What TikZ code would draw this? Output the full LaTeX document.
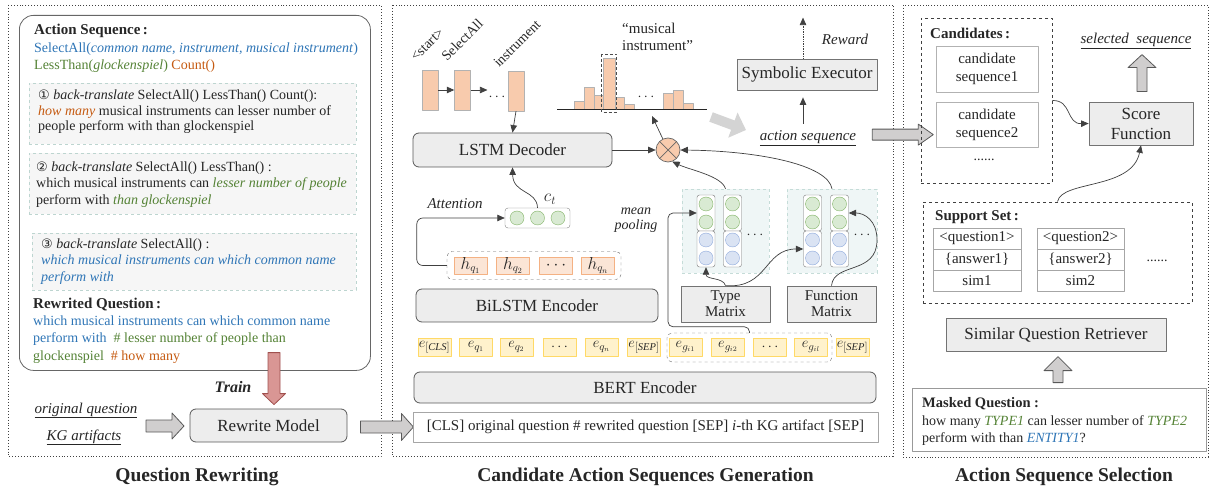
\documentclass[tikz,border=0pt]{standalone}
\usepackage{fontspec}
\setmainfont{Liberation Serif}
\newfontfamily\dejavu{DejaVu Sans}
\usetikzlibrary{calc,arrows.meta}
\definecolor{cblue}{HTML}{2E75B6}
\definecolor{cgreen}{HTML}{548235}
\definecolor{corange}{HTML}{C55A11}
\definecolor{barfill}{HTML}{F8CBAD}
\definecolor{hfill}{HTML}{FBE5D6}
\definecolor{hdraw}{HTML}{F4B183}
\definecolor{efill}{HTML}{FFF2CC}
\definecolor{edraw}{HTML}{FFD966}
\definecolor{gfill}{HTML}{D9EAD3}
\definecolor{gdraw}{HTML}{82B366}
\definecolor{bfill}{HTML}{DAE3F3}
\definecolor{bdraw}{HTML}{8FAADC}
\definecolor{mpfill}{HTML}{EFF6F6}
\definecolor{mpdraw}{HTML}{C5DCD8}
\definecolor{ltfill}{HTML}{F6F6F6}
\definecolor{ltdraw}{HTML}{BDD5D0}
\definecolor{redfill}{HTML}{D99694}
\definecolor{reddraw}{HTML}{A0504E}
\definecolor{boxfill}{HTML}{EDEDED}
\definecolor{arrfill}{HTML}{D0CECE}
\definecolor{txt}{HTML}{262626}
\newcommand\fsz[2]{\fontsize{#1}{#2}\selectfont}
% horizontal (right) block arrow: start point, shaft half, head half, total length, head length, style
\newcommand\rarr[6]{\draw[#6] (#1) ++(0,-#2) -- ++({#4-#5},0) -- ++(0,{-(#3-#2)}) -- ++(#5,#3) -- ++(-#5,#3) -- ++(0,{-(#3-#2)}) -- ++({-(#4-#5)},0) -- cycle;}
% upward block arrow (start = base centre)
\newcommand\uarr[6]{\draw[#6] (#1) ++(-#2,0) -- ++(0,{-(#4-#5)}) -- ++({-(#3-#2)},0) -- ++(#3,-#5) -- ++(#3,#5) -- ++({-(#3-#2)},0) -- ++(0,{#4-#5}) -- cycle;}
% downward block arrow (start = base centre)
\newcommand\darr[6]{\draw[#6] (#1) ++(-#2,0) -- ++(0,{#4-#5}) -- ++({-(#3-#2)},0) -- ++(#3,#5) -- ++(#3,-#5) -- ++({-(#3-#2)},0) -- ++(0,{-(#4-#5)}) -- cycle;}
\begin{document}
\begin{tikzpicture}[x=1pt,y=-1pt, font=\fsz{14}{17}, text=txt, line join=round,
  panel/.style={draw=black!75, dotted, line width=0.9pt},
  title/.style={anchor=base, inner sep=0, font=\fsz{19.5}{22}\bfseries},
  lbl/.style={anchor=base west, inner sep=0},
  gbox/.style={draw=black!65, fill=boxfill, rounded corners=6, line width=0.8pt, inner sep=0, font=\fsz{17}{20}},
  sbox/.style={draw=black!55, fill=boxfill, line width=0.8pt, inner sep=0, font=\fsz{17}{20}, align=center},
  dbox/.style={draw=ltdraw, fill=ltfill, dashed, line width=0.8pt, inner sep=0},
  blk/.style={draw=black!65, fill=arrfill, line width=0.8pt},
  redblk/.style={draw=reddraw, fill=redfill, line width=0.8pt},
  arr/.style={draw=black!75, line width=0.7pt, -{Triangle[length=7.5pt,width=6.5pt]}},
  tokbar/.style={draw=black!30, fill=barfill, minimum width=16, minimum height=40, inner sep=0},
  histbar/.style={draw=black!30, fill=barfill, line width=0.5pt},
  rot/.style={rotate=45, anchor=base west, inner sep=0, font=\fsz{14}{16}},
  hnode/.style={draw=hdraw, fill=hfill, minimum width=33, minimum height=17, inner sep=0, font=\fsz{16}{18}},
  enode/.style={draw=edraw, fill=efill, minimum width=33, minimum height=18, inner sep=0, font=\fsz{15}{17}},
  gcirc/.style={circle, draw=gdraw, fill=gfill, minimum size=14, inner sep=0},
  bcirc/.style={circle, draw=bdraw, fill=bfill, minimum size=14, inner sep=0},
  colbox/.style={draw=black!55, fill=white, rounded corners=2.5, minimum width=18, minimum height=36, inner sep=0},
  mpanel/.style={draw=mpdraw, dashed, fill=mpfill, minimum height=84, inner sep=0},
  cell/.style={draw=black!35, minimum height=21, inner sep=0, font=\fsz{15}{17}},
]
\useasboundingbox (0,0) rectangle (1213,486);

% ---------------- panels ----------------
\draw[panel] (8,5) rectangle (381,456);
\draw[panel] (392,5) rectangle (893,456);
\draw[panel] (903,5) rectangle (1208,457);
\node[title] (t1) at (197,481) {Question Rewriting};
\node[title] (t2) at (645.5,481) {Candidate Action Sequences Generation};
\node[title] (t3) at (1064,481) {Action Sequence Selection};

% ---------------- left panel ----------------
\node[draw=black!60, line width=0.8pt, rounded corners=14, minimum width=351, minimum height=355, anchor=north west, inner sep=0] (lbox) at (19,15) {};
\node[lbl, font=\fsz{15}{17}\bfseries] (ash) at (34,35) {Action Sequence\,:};
\node[lbl, text=cblue] (as1) at (34,53) {SelectAll(\textit{common name, instrument, musical instrument})};
\node[lbl] (as2) at (34,70) {\textcolor{cgreen}{LessThan(\textit{glockenspiel})} \textcolor{corange}{Count()}};

\node[dbox, minimum width=327, minimum height=61] (bt1) at (192.5,113.5) {};
\node[lbl] (bt1a) at (38,100) {{\dejavu\fsz{13}{15}①} \textit{back-translate} SelectAll() LessThan() Count():};
\node[lbl] (bt1b) at (38,115.5) {\textcolor{corange}{\textit{how many}} musical instruments can lesser number of};
\node[lbl] (bt1c) at (38,131) {people perform with than glockenspiel};

\node[dbox, minimum width=327, minimum height=61] (bt2) at (192.5,183.5) {};
\node[lbl] (bt2a) at (36,172) {{\dejavu\fsz{13}{15}②} \textit{back-translate} SelectAll() LessThan() :};
\node[lbl] (bt2b) at (36,188) {which musical instruments can \textcolor{cgreen}{\textit{lesser number of people}}};
\node[lbl] (bt2c) at (36,205) {perform with \textcolor{cgreen}{\textit{than glockenspiel}}};

\node[dbox, minimum width=324, minimum height=57] (bt3) at (194,261.5) {};
\node[lbl] (bt3a) at (41,249) {{\dejavu\fsz{13}{15}③} \textit{back-translate} SelectAll() :};
\node[lbl, text=cblue, font=\fsz{14}{17}\itshape] (bt3b) at (41,265) {which musical instruments can which common name};
\node[lbl, text=cblue, font=\fsz{14}{17}\itshape] (bt3c) at (41,282) {perform with};

\node[lbl, font=\fsz{15}{17}\bfseries] (rqh) at (33,309) {Rewrited Question\,:};
\node[lbl, text=cblue] (rq1) at (33,326) {which musical instruments can which common name};
\node[lbl] (rq2) at (33,343) {\textcolor{cblue}{perform with}\ \ \textcolor{cgreen}{\# lesser number of people than}};
\node[lbl] (rq3) at (33,360) {\textcolor{cgreen}{glockenspiel}\ \ \textcolor{corange}{\# how many}};

\node[gbox] (rw) at (268.5,425.5) [minimum width=157, minimum height=33] {Rewrite Model};
\darr{$(rw.north)+(5.5,-56)$}{6}{11.5}{52}{11}{redblk}
\node[anchor=base, inner sep=0, font=\fsz{16}{18}\bfseries\itshape] (train) at (233,392) {Train};

\node[anchor=base, inner sep=0, font=\fsz{15}{17}\itshape] (oq) at (86,413) {\underline{original question}};
\node[anchor=base, inner sep=0, font=\fsz{15}{17}\itshape] (kg) at (84,440) {\underline{KG artifacts}};
\rarr{146,426}{6}{13}{38}{12}{blk}
\rarr{$(rw.east)+(13,1.5)$}{6}{13.5}{53}{12}{blk}

% ---------------- middle panel ----------------
\node[tokbar] (b1) at (430,90) {};
\node[tokbar] (b2) at (462.5,90) {};
\node[tokbar] (b3) at (516,91) {};
\node[inner sep=1, font=\fsz{15}{16}] (dd) at (497,97) {$\cdots$};
\draw[arr] (b1.east) -- (b2.west);
\draw[arr] (b2.east) -- (dd.west |- b2.east);
\node[rot] (l1) at (416,62) {<start>};
\node[rot] (l2) at (447,62) {SelectAll};
\node[rot] (l3) at (499,68) {instrument};

\node[gbox, minimum width=199, minimum height=34] (lstm) at (512.5,150) {LSTM Decoder};
\draw[arr] (b3.south) -- (lstm.north);

\node[circle, draw=black!60, fill=barfill, minimum size=24, inner sep=0, line width=0.7pt] (ot) at (668,150) {};
\draw[black!60, line width=0.7pt] (ot.north west) -- (ot.south east) (ot.north east) -- (ot.south west);
\draw[arr] (lstm.east) -- (ot.west);

% histogram
\foreach \xa/\xb/\t in {574/584/101, 584/594/87, 594/603/95, 603/615/58, 615/624/97, 624/634/104, 663/673/93, 673/683/90, 683/693/103}
  \draw[histbar] (\xa,\t) rectangle (\xb,109);
\draw[black!85, line width=0.8pt] (557,109) -- (707,109);
\draw[black!70, densely dashed, line width=0.7pt] (601.5,54) rectangle (616.5,112);
\node[font=\fsz{15}{16}] (hd) at (646,97) {$\cdots$};
\node[anchor=north west, align=left, inner sep=0, font=\fsz{15}{17}] (mi) at (622,23) {“musical\\instrument”};
\draw[arr] (ot.115) -- (652,116);

\node[sbox, minimum width=140, minimum height=31] (se) at (807,74.5) {Symbolic Executor};
\draw[arr, densely dotted] ([xshift=-4pt]se.north) -- ++(0,-41);
\node[anchor=base, inner sep=0, font=\fsz{15}{17}\itshape] (rew) at (845,45) {Reward};
\node[anchor=base, inner sep=1, font=\fsz{15}{17}\itshape] (aseq) at (808,141) {\underline{action sequence}};
\draw[arr] ([xshift=-5pt,yshift=6pt]aseq.north) -- ([xshift=-4pt,yshift=-7pt]se.south);
\draw[line width=10pt, draw=black!17, -{Triangle[length=14pt,width=26pt]}] (711,117) -- (746,130);
\rarr{$(aseq.east)+(15,-4)$}{5.5}{10.5}{61}{15}{blk}

% attention
\node[draw=black!50, fill=white, rounded corners=3, minimum width=65, minimum height=20, inner sep=0] (ctb) at (537.5,218) {};
\foreach \cx in {517,537.5,558} \node[gcirc] at (\cx,218) {};
\node[font=\fsz{17}{18}] (ctl) at (550,199) {$c_t$};
\draw[arr] (ctb.north) .. controls (537,190) and (513,194) .. (lstm.south);
\node[anchor=base, inner sep=0, font=\fsz{15}{17}\itshape] (att) at (455,209) {Attention};

\node[draw=black!60, dashed, rounded corners=5, minimum width=174, minimum height=28, inner sep=0] (hbox) at (534,265.5) {};
\node[hnode] (h1) at (470.5,265.5) {$h_{q_1}$};
\node[hnode] (h2) at (513,265.5) {$h_{q_2}$};
\node[hnode] (h3) at (556,265.5) {$\cdots$};
\node[hnode] (h4) at (598,265.5) {$h_{q_n}$};
\draw[arr, rounded corners=6] (hbox.west) -- ++(-30,0) |- (ctb.west);

\node[gbox, minimum width=242, minimum height=33] (bil) at (537,305.5) {BiLSTM Encoder};

% embeddings
\node[draw=black!60, dashed, rounded corners=5, minimum width=165, minimum height=29, inner sep=0] (gdash) at (749.5,347.5) {};
\node[enode] (e1) at (434.5,347) {$e_{[\mathit{CLS}]}$};
\node[enode] (e2) at (476,347) {$e_{q_1}$};
\node[enode] (e3) at (516.5,347) {$e_{q_2}$};
\node[enode] (e4) at (559.5,347) {$\cdots$};
\node[enode] (e5) at (601.5,347) {$e_{q_n}$};
\node[enode] (e6) at (644,347) {$e_{[\mathit{SEP}]}$};
\node[enode] (e7) at (685.5,347) {$e_{g_{i1}}$};
\node[enode] (e8) at (728,347) {$e_{g_{i2}}$};
\node[enode] (e9) at (770,347) {$\cdots$};
\node[enode] (e10) at (811,347) {$e_{g_{il}}$};
\node[enode] (e11) at (852.5,347) {$e_{[\mathit{SEP}]}$};

\node[gbox, minimum width=462, minimum height=31] (bert) at (645,387.5) {BERT Encoder};
\node[draw=black!35, line width=0.8pt, minimum width=465, minimum height=30, inner sep=0, font=\fsz{15}{17}] (inp) at (645.5,427) {[CLS] original question \# rewrited question [SEP] \textit{i}-th KG artifact [SEP]};

% matrices
\node[mpanel, minimum width=87] (tp) at (725.5,231) {};
\node[mpanel, minimum width=90] (fp) at (832,231) {};
\foreach \nm/\cx in {tc1/706, tc2/732.5, fc1/812.5, fc2/839.5} {
  \node[colbox] (\nm u) at (\cx,213) {};
  \node[colbox] (\nm l) at (\cx,249) {};
  \node[gcirc] at (\cx,204) {};
  \node[gcirc] at (\cx,222) {};
  \node[bcirc] at (\cx,240) {};
  \node[bcirc] at (\cx,258) {};
}
\node[font=\fsz{15}{16}] (td) at (755,235) {$\cdots$};
\node[font=\fsz{15}{16}] (fd) at (862,235) {$\cdots$};
\node[sbox, minimum width=89, minimum height=36, font=\fsz{15}{16}] (tm) at (725.5,304) {Type\\Matrix};
\node[sbox, minimum width=89, minimum height=36, font=\fsz{15}{16}] (fm) at (831.5,304) {Function\\Matrix};
\node[align=center, inner sep=0, font=\fsz{14}{15.5}\itshape] (mp) at (636,220) {mean\\pooling};

\draw[arr] (tm.north) .. controls (723,277) and (706,280) .. (tc1l.south);
\draw[arr] (tm.north) .. controls (768,289) and (764,249) .. (fc1l.west);
\draw[arr] (fm.north) .. controls (834,262) and (877,275) .. (877,240) .. controls (877,220) and (864,213) .. (fc2u.east);
\draw[arr, rounded corners=5] (gdash.north) -- ++(0,-6) -| (668,213) -- (tc1u.west);
\draw[arr] (tp.north) .. controls (722,176) and (690,170) .. (ot.-70);
\draw[arr] (fp.north) .. controls (828,165) and (760,151) .. (ot.east);

% ---------------- right panel ----------------
\node[draw=black!75, dashed, line width=0.8pt, minimum width=131, minimum height=165, inner sep=0] (cands) at (986.5,100.5) {};
\node[lbl, font=\fsz{15}{17}\bfseries] (candh) at (930,39) {Candidates\,:};
\node[draw=black!30, line width=0.8pt, minimum width=102, minimum height=46, inner sep=0, align=center, font=\fsz{15}{18}] (cs1) at (987,69) {candidate\\sequence1};
\node[draw=black!30, line width=0.8pt, minimum width=102, minimum height=45, inner sep=0, align=center, font=\fsz{15}{18}] (cs2) at (987,124.5) {candidate\\sequence2};
\node[inner sep=0] (cdots) at (984,160) {......};

\node[anchor=base, inner sep=0, font=\fsz{15}{17}\itshape] (sel) at (1136,44) {\underline{selected\ \ sequence}};
\node[sbox, minimum width=104, minimum height=43] (sf) at (1141,123.5) {Score\\Function};
\uarr{$(sf.north)+(1,-10)$}{5}{14}{37}{13}{blk}
\draw[arr] (cands.east) .. controls (1072,100) and (1066,124) .. (sf.west);

\node[draw=black!75, dashed, line width=0.8pt, minimum width=269, minimum height=101, inner sep=0] (ss) at (1057.5,252.5) {};
\node[lbl, font=\fsz{15}{17}\bfseries] (ssh) at (935,221) {Support Set\,:};
\node[cell, minimum width=88] (q1) at (977,238.5) {<question1>};
\node[cell, minimum width=88] (a1) at (977,259.5) {\{answer1\}};
\node[cell, minimum width=88] (s1) at (977,280.5) {sim1};
\node[cell, minimum width=87] (q2) at (1080.5,238.5) {<question2>};
\node[cell, minimum width=87] (a2) at (1080.5,259.5) {\{answer2\}};
\node[cell, minimum width=87] (s2) at (1080.5,280.5) {sim2};
\node[inner sep=0] (sdots) at (1157,261) {......};
\draw[arr] (ss.north) .. controls (1062,180) and (1132,190) .. (sf.south);

\node[sbox, minimum width=220, minimum height=33] (sqr) at (1056,334.5) {Similar Question Retriever};
\node[draw=black!40, line width=0.8pt, minimum width=294, minimum height=63, inner sep=0] (mq) at (1059,419.5) {};
\uarr{$(mq.north)+(-1,-5)$}{5}{14}{26}{14}{blk}
\node[lbl, font=\fsz{14.5}{17}\bfseries] (mqh) at (922,407) {Masked Question :};
\node[lbl] (mq1) at (922,425) {how many \textcolor{cgreen}{\textit{TYPE1}} can lesser number of \textcolor{cgreen}{\textit{TYPE2}}};
\node[lbl] (mq2) at (922,442) {perform with than \textcolor{cblue}{\textit{ENTITY1}}?};
\end{tikzpicture}
\end{document}
